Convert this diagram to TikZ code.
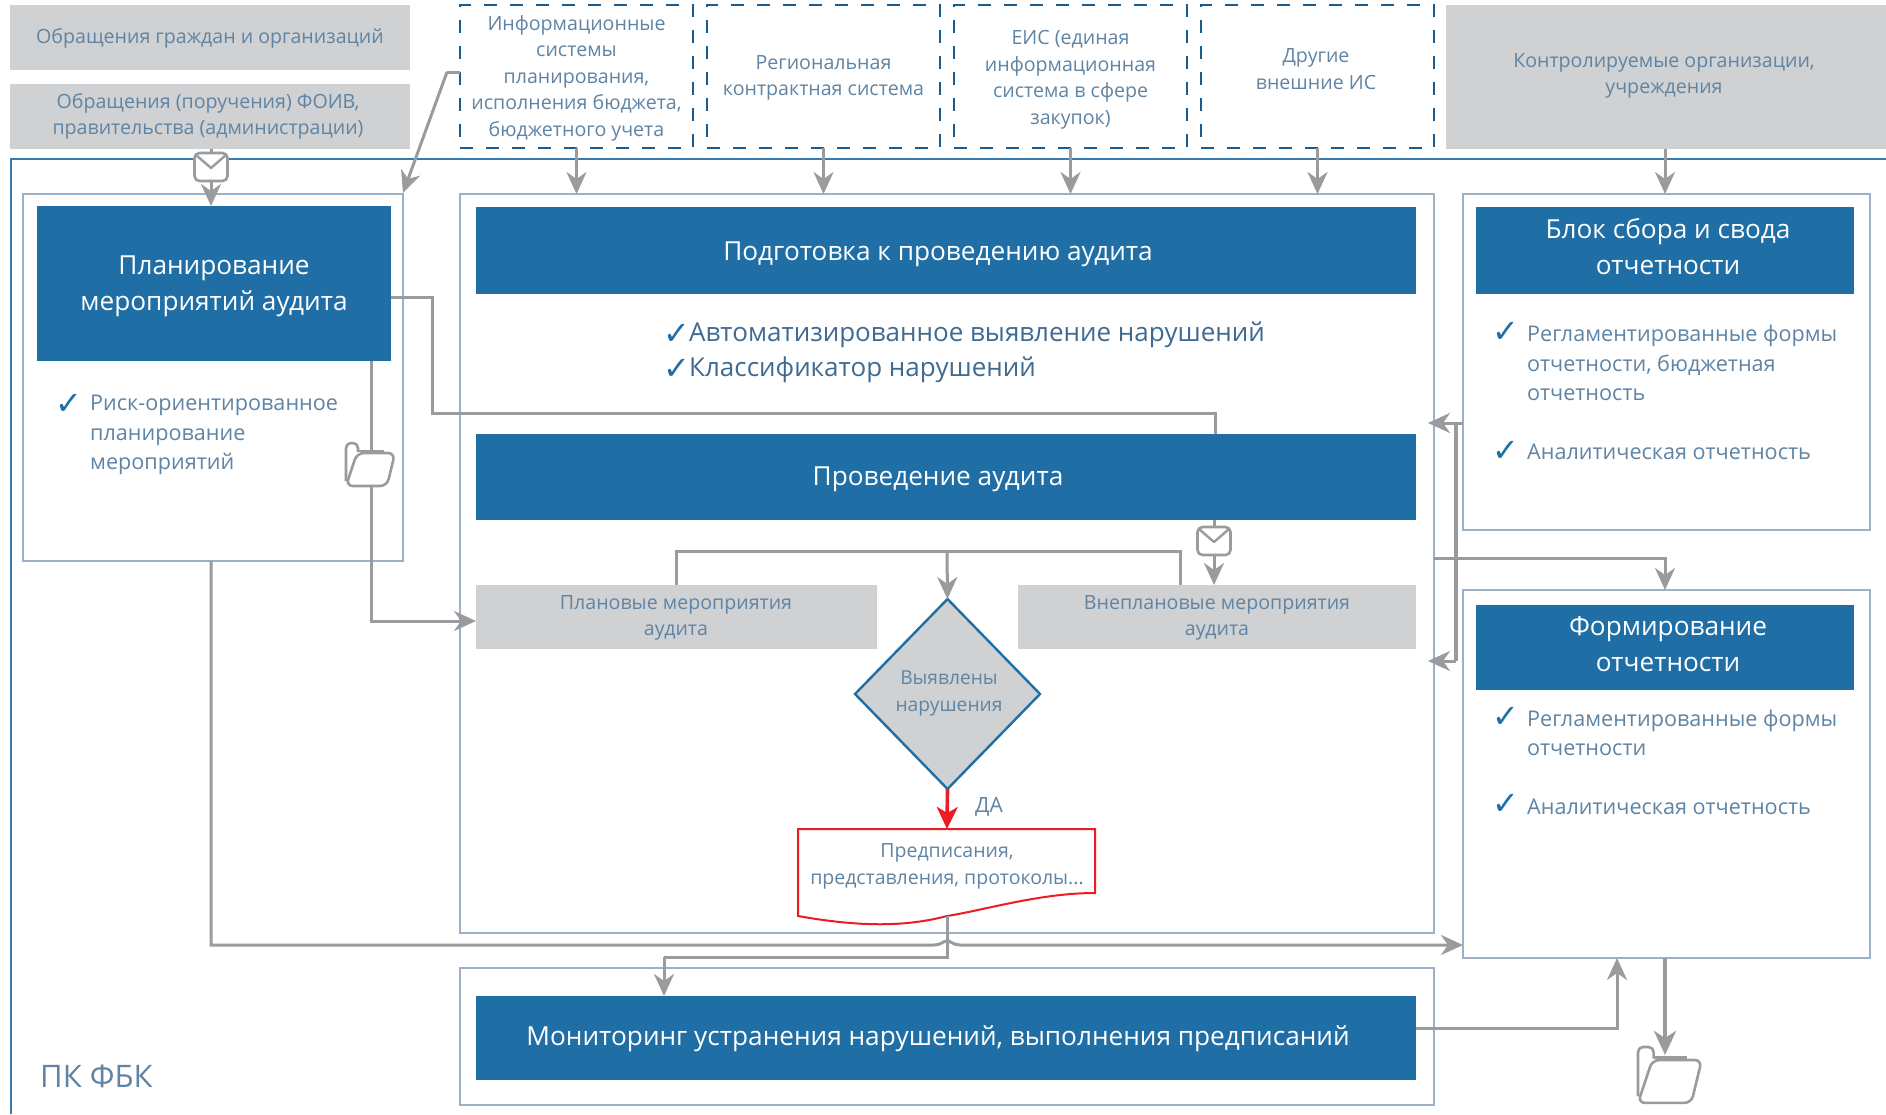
\documentclass[tikz,border=0pt]{standalone}
\usepackage{fontspec}
\setmainfont{Open Sans}
\newfontfamily\symf{DejaVu Sans}
\usetikzlibrary{arrows.meta,shapes.geometric,calc}
\definecolor{fbkblue}{HTML}{1F6EA5}
\definecolor{fbkgrey}{HTML}{CFD1D3}
\definecolor{fbkline}{HTML}{9A9B9D}
\definecolor{fbkframe}{HTML}{9DB0C8}
\definecolor{fbktext}{HTML}{5F84A4}
\definecolor{fbkdark}{HTML}{3F6A91}
\definecolor{fbkred}{HTML}{ED1C24}
\newcommand{\fs}[1]{\fontsize{#1}{38}\selectfont}
\tikzset{
  x=1pt,y=-1pt,
  basebox/.style={inner sep=0pt,outer sep=0pt,align=center,anchor=center},
  greybox/.style={basebox,fill=fbkgrey},
  bluebox/.style={basebox,fill=fbkblue},
  dashbox/.style={basebox,draw=fbkblue!85!black,line width=2.6pt,dash pattern=on 13pt off 13pt},
  container/.style={basebox,draw=fbkframe,line width=1.8pt},
  smalltxt/.style={inner sep=0pt,align=center,text=fbktext,font=\fontsize{19.6}{26.5}\selectfont},
  headtxt/.style={inner sep=0pt,align=center,text=white,font=\fontsize{26.2}{36}\selectfont},
  conn/.style={draw=fbkline,line width=3pt,line join=miter},
  arr/.style={conn,-{Stealth[length=22pt,width=20pt,inset=7pt]}},
  listtxt/.style={inner sep=0pt,anchor=west,align=left,text=fbktext,font=\fontsize{21.6}{29.5}\selectfont},
  bigtxt/.style={inner sep=0pt,anchor=west,align=left,text=fbkdark,font=\fontsize{26}{35}\selectfont},
  tick/.style={inner sep=0pt,text=fbkblue,font=\symf\fontsize{32}{32}\selectfont},
  icon/.style={draw=fbkline,line width=2.6pt,fill=white,rounded corners=7pt,line join=round},
}
% name, x1, y1, x2, y2, style
\newcommand{\bx}[6]{\node[#6,minimum width={#4-#2},minimum height={#5-#3}] (#1) at ({(#2+#4)/2},{(#3+#5)/2}) {};}
\newcommand{\envelope}[3]{%
  \begin{scope}[shift={(#2,#3)}]
    \node[icon,rounded corners=5pt,minimum width=33pt,minimum height=28pt,inner sep=0pt] (#1) at (0,0) {};
    \draw[fbkline,line width=2.4pt,line join=round] (-15,-12) -- (0,1) -- (15,-12);
  \end{scope}}
\newcommand{\folder}[4]{%
  \begin{scope}[shift={(#2,#3)},scale=#4]
    \coordinate (#1) at (24,22);
    \draw[icon,rounded corners=5pt] (0,38) -- (0,0) -- (12,0) -- (12,9);
    \draw[icon,rounded corners=0pt] (12,8) -- (38,8);
    \draw[icon] (11,10) -- (49,10) -- (41,43) -- (0,43) -- cycle;
  \end{scope}}
\begin{document}
\begin{tikzpicture}
\useasboundingbox (0,0) rectangle (1886,1114);
\fill[white] (0,0) rectangle (1886,1114);

% outer frame
\coordinate (frameA) at (11,1114);
\coordinate (frameB) at (11,159);
\coordinate (frameC) at (1886,159);
\draw[fbkblue!80!fbkframe,line width=2.2pt] (frameA) -- (frameB) -- (frameC);
\node[inner sep=0pt,anchor=west,text=fbktext,font=\fs{31}] (pk) at (40,1076) {ПК ФБК};

% top row
\bx{gA}{10}{5}{410}{70}{greybox}
\bx{gB}{10}{84}{410}{149}{greybox}
\bx{dA}{460}{5}{693}{148}{dashbox}
\bx{dB}{707}{5}{940}{148}{dashbox}
\bx{dC}{954}{5}{1187}{148}{dashbox}
\bx{dD}{1201}{5}{1434}{148}{dashbox}
\bx{gC}{1446}{5}{1886}{149}{greybox}

% containers
\bx{cPlan}{23}{194}{403}{561}{container}
\bx{cMid}{460}{194}{1434}{933}{container}
\bx{cRep}{1463}{194}{1870}{530}{container}
\bx{cForm}{1463}{590}{1870}{958}{container}
\bx{cMon}{460}{968}{1434}{1105}{container}

% blue headers
\bx{bPlan}{37}{206}{391}{361}{bluebox}
\bx{bPrep}{476}{207}{1416}{294}{bluebox}
\bx{bCond}{476}{434}{1416}{520}{bluebox}
\bx{bRep}{1476}{207}{1854}{294}{bluebox}
\bx{bForm}{1476}{605}{1854}{690}{bluebox}
\bx{bMon}{476}{996}{1416}{1080}{bluebox}

% grey activities
\bx{gPl}{476}{585}{877}{649}{greybox}
\bx{gUn}{1018}{585}{1416}{649}{greybox}

% decision
\node[diamond,draw=fbkblue,line width=2.4pt,fill=fbkgrey,minimum width=185pt,minimum height=190pt,inner sep=0pt,outer sep=0pt,aspect=1] (dec) at (947.5,694) {};

% document
\coordinate (docNW) at (798,829);
\coordinate (docNE) at (1095,829);
\coordinate (docSE) at (1095,893);
\coordinate (docSW) at (798,916);
\coordinate (docBot) at (947,916);
\coordinate (docTop) at (947,829);
\draw[fbkred,line width=2pt,line join=miter] (docNW) -- (docNE) -- (docSE) .. controls (1040,893) and (985,910) .. (docBot) .. controls (905,927) and (860,927) .. (docSW) -- cycle;

% routing points
\coordinate (upTrunk) at (947,551);
\coordinate (envC) at (1214,541);
\coordinate (envT) at (211,167);
\coordinate (f1) at (371,464);
\coordinate (f1b) at (371,621);
\coordinate (gPlIn) at (476,621);
\coordinate (xTrunk) at (1456,423);
\coordinate (xForm) at (1665,558);
\coordinate (xMon) at (1617,1028);
\coordinate (xBot) at (664,957);
\coordinate (xOut) at (1665,958);
\coordinate (f2tip) at (1665,1055);
\coordinate (tipA) at (1428,423);
\coordinate (tipB) at (1428,661);

% arrows from the top
\coordinate (dBend) at (447,72);
\coordinate (cPlanNE) at (403,193);
\draw[conn] (gB.south -| envT) -- (envT);
\draw[arr] (envT) -- (bPlan.north -| envT);
\draw[conn] (dA.west |- dBend) -- (dBend);
\draw[arr] (dBend) -- (cPlanNE);
\draw[arr] (dA.south) -- (cMid.north -| dA.south);
\draw[arr] (dB.south) -- (cMid.north -| dB.south);
\draw[arr] (dC.south) -- (cMid.north -| dC.south);
\draw[arr] (dD.south) -- (cMid.north -| dD.south);
\draw[arr] (gC.south -| xForm) -- (cRep.north -| xForm);

% planning outgoing
\coordinate (pA) at (432,297);
\coordinate (pB) at (432,413);
\coordinate (pC) at (1215,413);
\draw[conn] (bPlan.east |- pA) -- (pA) -- (pB) -- (pC) -- (bCond.north -| pC);
\draw[arr] (bPlan.south -| f1) -- (f1b) -- (gPlIn);
\coordinate (hump) at (947,941);
\coordinate (hA) at (934,945);
\coordinate (hB) at (960,945);
\draw[arr] (cPlan.south -| envT) -- (envT |- hA) -- (hA) .. controls (941,945) and (943,941) .. (hump) .. controls (951,941) and (953,945) .. (hB) -- (cForm.west |- hA);

% conduct
\draw[conn] (gPl.north) -- (gPl.north |- upTrunk) -- (upTrunk);
\coordinate (unUp) at (1180,585);
\draw[conn] (unUp) -- (unUp |- upTrunk) -- (upTrunk);
\draw[arr] (upTrunk) -- (dec.north);
\draw[conn] (bCond.south -| envC) -- (envC);
\draw[arr] (envC) -- (gUn.north -| envC);
\draw[arr,draw=fbkred,line width=3.6pt,-{Stealth[length=22pt,width=21pt,inset=6pt]}] (dec.south) -- (docTop);

% document output
\draw[conn] (docBot) -- (docBot |- xBot) -- (xBot);
\draw[arr] (xBot) -- (bMon.north -| xBot);

% reports
\draw[arr] (cRep.west |- xTrunk) -- (tipA);
\coordinate (trEnd) at (1456,661);
\draw[conn,line width=3.4pt] (xTrunk) -- (trEnd);
\draw[arr] (trEnd) -- (tipB);
\draw[arr] (cMid.east |- xForm) -- (xForm) -- (cForm.north -| xForm);
\draw[arr] (bMon.east |- xMon) -- (xMon) -- (cForm.south -| xMon);
\draw[arr,line width=4.4pt,-{Stealth[length=24pt,width=22pt,inset=7pt]}] (xOut) -- (f2tip);

% icons
\envelope{eA}{211}{167}
\envelope{eB}{1214}{541}
\folder{fA}{346}{443}{1}
\folder{fB}{1638}{1047}{1.3}

% box texts
\node[smalltxt] (tgA) at (210,38) {Обращения граждан и организаций};
\node[smalltxt] (tgB) at (208,116.5) {Обращения (поручения) ФОИВ,\\правительства (администрации)};
\node[smalltxt] (tdA) at (576.5,78) {Информационные\\системы\\планирования,\\исполнения бюджета,\\бюджетного учета};
\node[smalltxt] (tdB) at (823.5,78) {Региональная\\контрактная система};
\node[smalltxt] (tdC) at (1070.5,80) {ЕИС (единая\\информационная\\система в сфере\\закупок)};
\node[smalltxt] (tdD) at (1316,69) {Другие\\внешние ИС};
\node[smalltxt] (tgC) at (1664,76) {Контролируемые организации,\\учреждения};
\node[headtxt] (tPlan) at (214,286) {Планирование\\мероприятий аудита};
\node[headtxt] (tPrep) at (938,254) {Подготовка к проведению аудита};
\node[headtxt] (tCond) at (938,479) {Проведение аудита};
\node[headtxt] (tRep) at (1668,247) {Блок сбора и свода\\отчетности};
\node[headtxt] (tForm) at (1668,644) {Формирование\\отчетности};
\node[headtxt] (tMon) at (938,1039) {Мониторинг устранения нарушений, выполнения предписаний};
\node[smalltxt] (tgPl) at (676,618) {Плановые мероприятия\\аудита};
\node[smalltxt] (tgUn) at (1217,618) {Внеплановые мероприятия\\аудита};
\node[smalltxt,font=\fontsize{19.2}{26.5}\selectfont] (decT) at (949,693.5) {Выявлены\\нарушения};
\node[smalltxt,font=\fontsize{19.5}{27}\selectfont] (docT) at (947,866.5) {Предписания,\\представления, протоколы...};
\node[inner sep=0pt,text=fbktext,font=\fs{21}] (da) at (989,807) {ДА};

% lists
\node[tick] (t1) at (68.5,404) {✓};
\node[listtxt] (l1) at (90,435) {Риск-ориентированное\\планирование\\мероприятий};
\node[tick] (t2) at (676.5,334) {✓};
\node[bigtxt] (l2) at (689,335) {Автоматизированное выявление нарушений};
\node[tick] (t3) at (676.5,369) {✓};
\node[bigtxt] (l3) at (689,370) {Классификатор нарушений};
\node[tick] (t4) at (1505.5,332) {✓};
\node[listtxt] (l4) at (1527,363) {Регламентированные формы\\отчетности, бюджетная\\отчетность};
\node[tick] (t5) at (1505.5,451) {✓};
\node[listtxt] (l5) at (1527,452) {Аналитическая отчетность};
\node[tick] (t6) at (1505.5,717) {✓};
\node[listtxt] (l6) at (1527,733) {Регламентированные формы\\отчетности};
\node[tick] (t7) at (1505.5,804) {✓};
\node[listtxt] (l7) at (1527,807) {Аналитическая отчетность};
\end{tikzpicture}
\end{document}
